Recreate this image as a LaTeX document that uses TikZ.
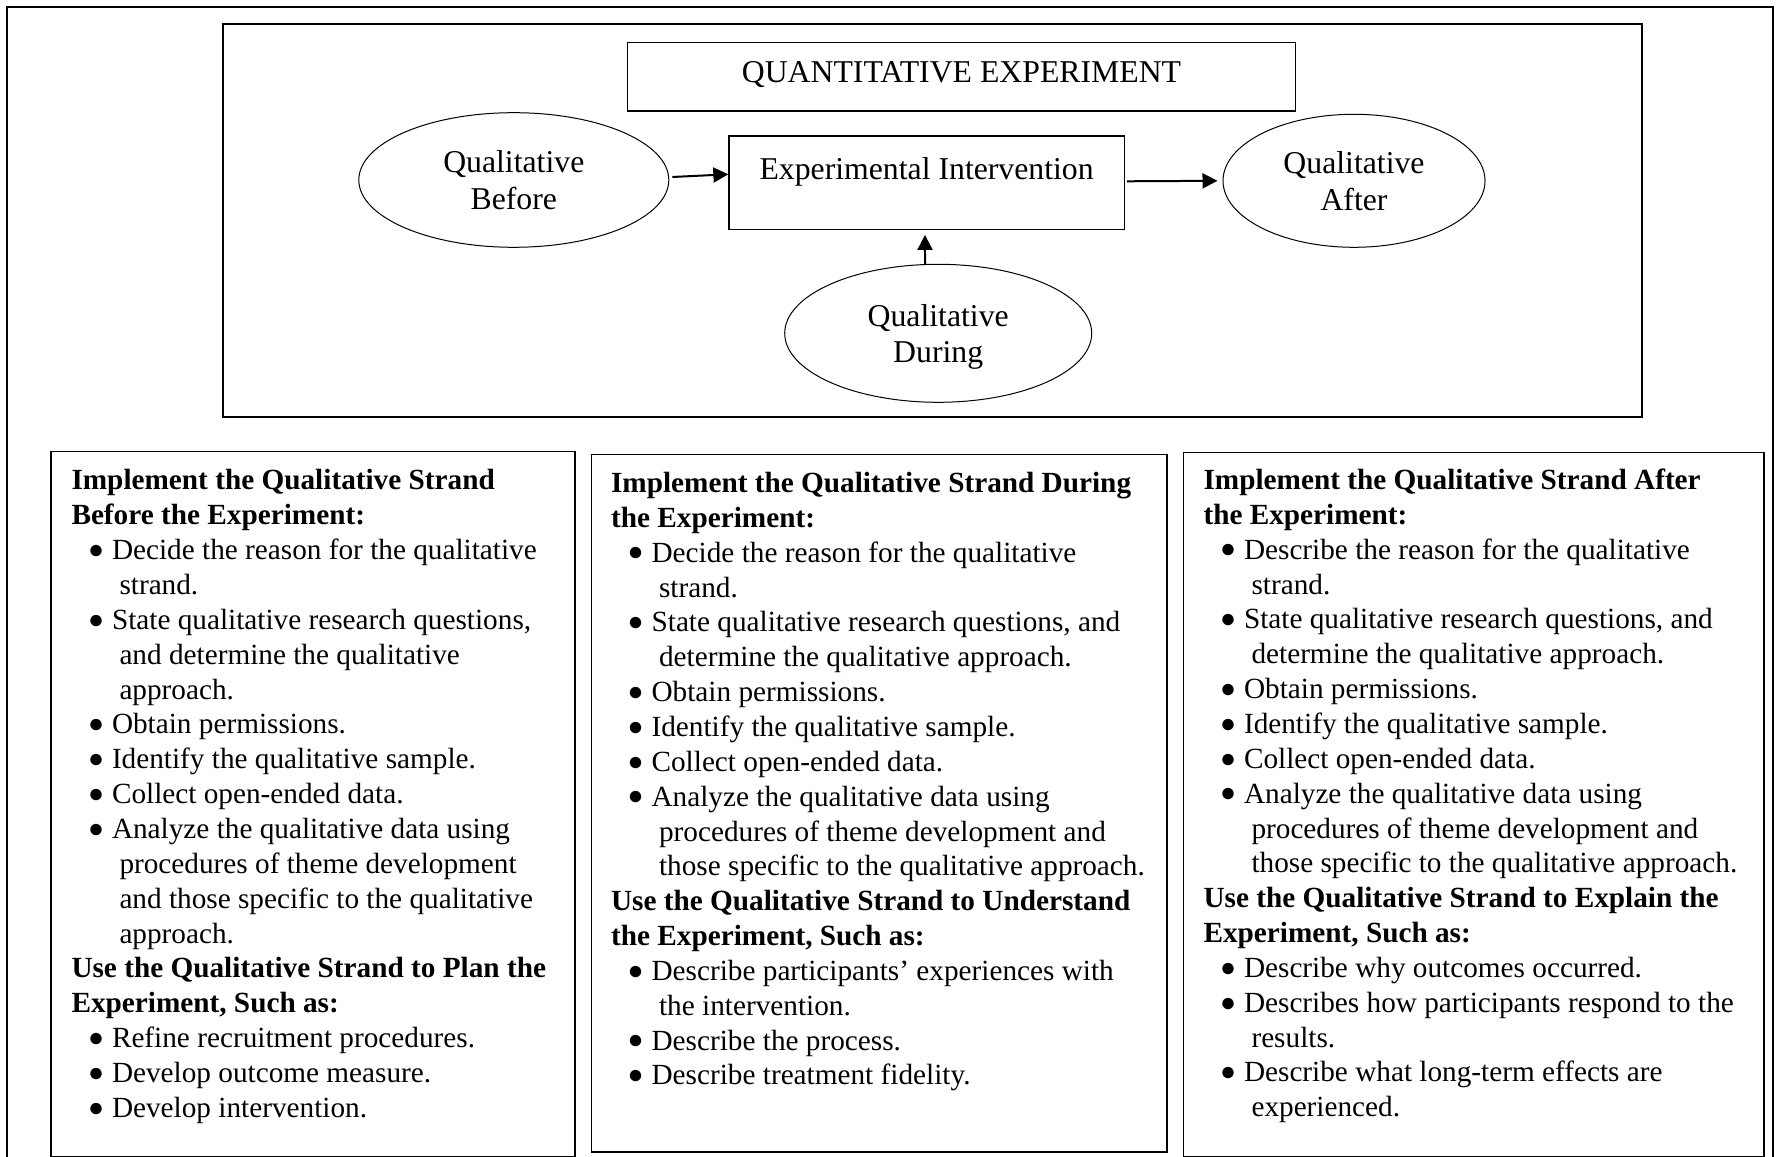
\documentclass[tikz,border=0pt]{standalone}
\usepackage{fontspec}
\setmainfont{Liberation Serif}
\usetikzlibrary{shapes.geometric,arrows.meta}

% type sizes
\newcommand\toptext{\fontsize{12.7}{14.6}\selectfont}
\newcommand\bodytext{\fontsize{11.7}{13.94}\selectfont}
% list marker: a solid round dot
\newcommand\pbullet{\raisebox{0.5pt}{\fontsize{10.6}{11}\selectfont ●}}
% one line of a panel: heading, bulleted item, continuation of an item
\newcommand\phead[1]{\hbox{\bfseries #1}}
\newcommand\pitem[1]{\hbox{\kern6.6pt\rlap{\pbullet}\kern9.6pt #1}}
\newcommand\pcont[1]{\hbox{\kern19.2pt #1}}

\tikzset{
  frame/.style={line width=0.75pt},
  box/.style={draw, rectangle, line width=0.5pt, inner sep=0pt, font=\toptext},
  oval/.style={draw, ellipse, line width=0.4pt, inner sep=0pt, align=center, font=\toptext, text depth=0pt},
  arr/.style={line width=0.8pt, -{Triangle[length=6pt,width=6pt]}},
  panel/.style={draw, rectangle, line width=0.6pt, inner sep=0pt, anchor=north west},
  list/.style={anchor=base west, inner sep=0pt},
}

\begin{document}
\begin{tikzpicture}[x=0.4pt, y=-0.4pt]
\useasboundingbox (0,0) rectangle (1777,1157);

% outer frame, open at the bottom
\draw[frame] (7,1170) -- (7,7) -- (1773,7) -- (1773,1170);

% the experiment
\node[panel, line width=0.8pt, minimum width=567.76pt, minimum height=157.2pt] (stage) at (221.6,22.7) {};
\node[box, minimum width=267.24pt, minimum height=27.48pt, text height=9pt, text depth=4.2pt] (quant) at (961.5,76.7) {QUANTITATIVE EXPERIMENT};
\node[box, minimum width=158.12pt, minimum height=37.32pt, text height=9pt, text depth=11.16pt] (ei) at (926.6,182.65) {Experimental Intervention};

\node[oval, minimum width=124pt, minimum height=53.84pt] (before) at (513.8,180) {Qualitative\\Before};
\node[oval, minimum width=104.8pt, minimum height=53.2pt] (after) at (1354,180.8) {Qualitative\\After};
\node[oval, minimum width=122.8pt, minimum height=55.2pt] (during) at (938.2,333.3) {Qualitative\\During};

\draw[arr] ([shift={(3,-3)}]before.east) -- ([yshift=3.34pt]ei.west);
\draw[arr] ([xshift=0.8pt, yshift=0.54pt]ei.east) -- ([xshift=-2pt]after.west);
\draw[arr, shorten >=2pt] ([xshift=-5.28pt]during.north) -- ([xshift=-0.66pt]ei.south);

% the three panels
\node[panel, minimum width=209.6pt, minimum height=281.8pt] (p1) at (50,451) {};
\node[panel, minimum width=230.24pt, minimum height=278.8pt] (p2) at (590.7,454) {};
\node[panel, minimum width=232.08pt, minimum height=281.68pt] (p3) at (1182.8,451.8) {};

\node[list] (t1) at (71,490) {\vtop{\bodytext
  \phead{Implement the Qualitative Strand}
  \phead{Before the Experiment:}
  \pitem{Decide the reason for the qualitative}
  \pcont{strand.}
  \pitem{State qualitative research questions,}
  \pcont{and determine the qualitative}
  \pcont{approach.}
  \pitem{Obtain permissions.}
  \pitem{Identify the qualitative sample.}
  \pitem{Collect open-ended data.}
  \pitem{Analyze the qualitative data using}
  \pcont{procedures of theme development}
  \pcont{and those specific to the qualitative}
  \pcont{approach.}
  \phead{Use the Qualitative Strand to Plan the}
  \phead{Experiment, Such as:}
  \pitem{Refine recruitment procedures.}
  \pitem{Develop outcome measure.}
  \pitem{Develop intervention.}}};

\node[list] (t2) at (610.6,492.5) {\vtop{\bodytext
  \phead{Implement the Qualitative Strand During}
  \phead{the Experiment:}
  \pitem{Decide the reason for the qualitative}
  \pcont{strand.}
  \pitem{State qualitative research questions, and}
  \pcont{determine the qualitative approach.}
  \pitem{Obtain permissions.}
  \pitem{Identify the qualitative sample.}
  \pitem{Collect open-ended data.}
  \pitem{Analyze the qualitative data using}
  \pcont{procedures of theme development and}
  \pcont{those specific to the qualitative approach.}
  \phead{Use the Qualitative Strand to Understand}
  \phead{the Experiment, Such as:}
  \pitem{Describe participants’ experiences with}
  \pcont{the intervention.}
  \pitem{Describe the process.}
  \pitem{Describe treatment fidelity.}}};

\node[list] (t3) at (1203,489.5) {\vtop{\bodytext
  \phead{Implement the Qualitative Strand After}
  \phead{the Experiment:}
  \pitem{Describe the reason for the qualitative}
  \pcont{strand.}
  \pitem{State qualitative research questions, and}
  \pcont{determine the qualitative approach.}
  \pitem{Obtain permissions.}
  \pitem{Identify the qualitative sample.}
  \pitem{Collect open-ended data.}
  \pitem{Analyze the qualitative data using}
  \pcont{procedures of theme development and}
  \pcont{those specific to the qualitative approach.}
  \phead{Use the Qualitative Strand to Explain the}
  \phead{Experiment, Such as:}
  \pitem{Describe why outcomes occurred.}
  \pitem{Describes how participants respond to the}
  \pcont{results.}
  \pitem{Describe what long-term effects are}
  \pcont{experienced.}}};
\end{tikzpicture}
\end{document}
